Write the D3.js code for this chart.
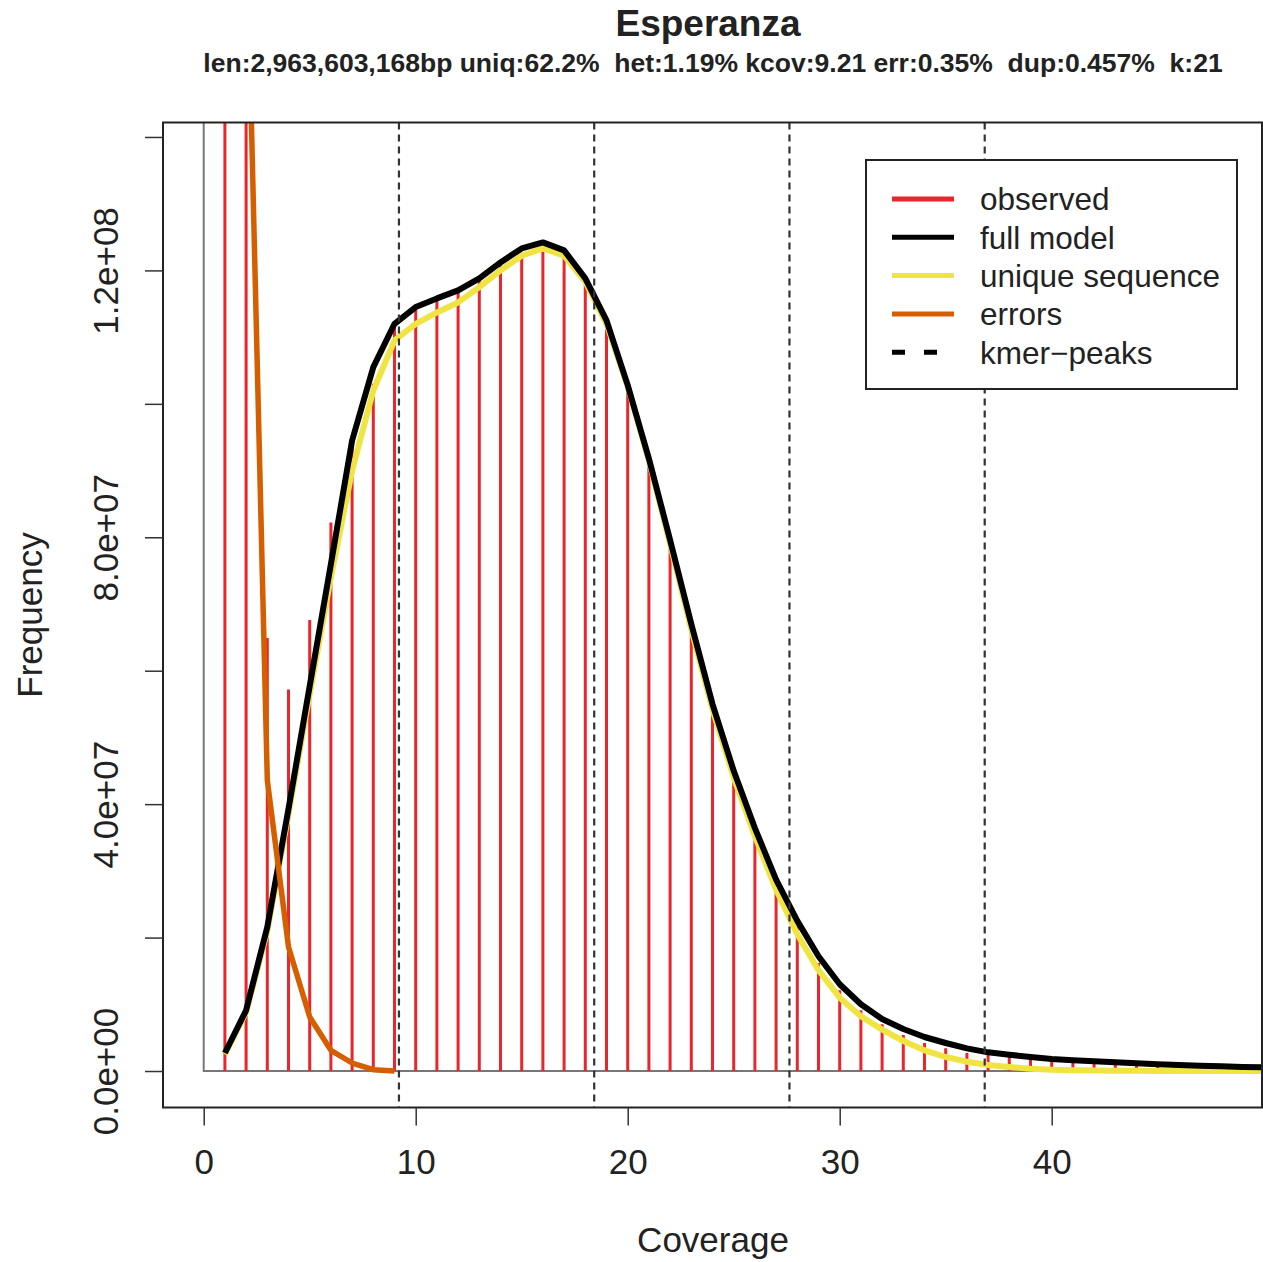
<!DOCTYPE html>
<html>
<head>
<meta charset="utf-8">
<script src="https://cdn.jsdelivr.net/npm/d3@7"></script>
<style>
  body { margin: 0; background: #fff; }
  text { font-family: "Liberation Sans", Arial, sans-serif; fill: #222; }
</style>
</head>
<body>
<svg id="chart" width="1263" height="1262"></svg>
<script>
var coverage = [1, 2, 3, 4, 5, 6, 7, 8, 9, 10, 11, 12, 13, 14, 15, 16, 17, 18, 19, 20,
    21, 22, 23, 24, 25, 26, 27, 28, 29, 30, 31, 32, 33, 34, 35, 36, 37, 38, 39, 40,
    41, 42, 43, 44, 45, 46, 47, 48, 49, 50];

// observed histogram (1..49)
var observed = [4.6e8, 1.62e8, 6.49e7, 5.72e7, 6.76e7, 8.22e7, 9.4e7, 1.03e8, 1.115e8, 1.143e8,
    1.158e8, 1.172e8, 1.19e8, 1.21e8, 1.225e8, 1.236e8, 1.222e8, 1.178e8, 1.112e8, 1.02e8,
    9.15e7, 7.9e7, 6.68e7, 5.5e7, 4.47e7, 3.6e7, 2.8e7, 2.18e7, 1.62e7, 1.21e7,
    9.1e6, 7.0e6, 5.4e6, 4.2e6, 3.4e6, 2.7e6, 2.4e6, 2.1e6, 1.8e6, 1.5e6,
    1.35e6, 1.2e6, 1.2e6, 1.1e6, 1.15e6, 1.1e6, 1.1e6, 1.05e6, 1.05e6];

var fullModel = [2.7e6, 9.1e6, 2.16e7, 3.93e7, 5.77e7, 7.6e7, 9.45e7, 1.055e8, 1.12e8, 1.145e8,
    1.158e8, 1.17e8, 1.188e8, 1.212e8, 1.233e8, 1.242e8, 1.23e8, 1.188e8, 1.125e8, 1.028e8,
    9.18e7, 7.96e7, 6.7e7, 5.5e7, 4.5e7, 3.64e7, 2.87e7, 2.25e7, 1.72e7, 1.3e7,
    1.0e7, 7.8e6, 6.3e6, 5.1e6, 4.2e6, 3.4e6, 2.8e6, 2.45e6, 2.1e6, 1.8e6,
    1.6e6, 1.45e6, 1.3e6, 1.15e6, 1.0e6, 9e5, 8e5, 7e5, 6e5, 5.5e5];

var uniqueSeq = [2.5e6, 8.8e6, 2.1e7, 3.85e7, 5.65e7, 7.4e7, 9.0e7, 1.02e8, 1.095e8, 1.12e8,
    1.137e8, 1.152e8, 1.175e8, 1.2e8, 1.222e8, 1.233e8, 1.222e8, 1.183e8, 1.12e8, 1.026e8,
    9.15e7, 7.9e7, 6.62e7, 5.42e7, 4.4e7, 3.52e7, 2.72e7, 2.05e7, 1.51e7, 1.1e7,
    8.2e6, 6.2e6, 4.5e6, 3.1e6, 2.1e6, 1.4e6, 9e5, 6e5, 3.5e5, 2e5,
    1.2e5, 8e4, 5e4, 3e4, 2e4, 1e4, 0, 0, 0, 0];

var errors = [4.0e8, 1.75e8, 4.36e7, 1.86e7, 8.1e6, 3.1e6, 1.2e6, 2e5, 0];

var peaks = [9.21, 18.42, 27.63, 36.84];

var xTicks = [0, 10, 20, 30, 40];
var yTicks = [0, 2e7, 4e7, 6e7, 8e7, 1e8, 1.2e8, 1.4e8];
var yLabels = [0, 4e7, 8e7, 1.2e8];

var legendItems = [
    {label: "observed", color: "#e8262b", dash: null},
    {label: "full model", color: "#000000", dash: null},
    {label: "unique sequence", color: "#f0e442", dash: null},
    {label: "errors", color: "#d55e00", dash: null},
    {label: "kmer\u2212peaks", color: "#000000", dash: "13,19"}
];

var title = "Esperanza";
var subtitle = "len:2,963,603,168bp uniq:62.2%  het:1.19% kcov:9.21 err:0.35%  dup:0.457%  k:21";

var box = {left: 163, right: 1262, top: 122.5, bottom: 1107.5};

// R style 4% padding around xlim/ylim
var xlim = [0, 48], ylim = [0, 1.367e8];
var xpad = (xlim[1] - xlim[0]) * 0.04, ypad = (ylim[1] - ylim[0]) * 0.04;
var x = d3.scaleLinear().domain([xlim[0] - xpad, xlim[1] + xpad]).range([box.left, box.right]);
var y = d3.scaleLinear().domain([ylim[0] - ypad, ylim[1] + ypad]).range([box.bottom, box.top]);

var svg = d3.select("#chart");
svg.append("rect").attr("width", 1263).attr("height", 1262).attr("fill", "#fff");

svg.append("defs").append("clipPath").attr("id", "plotclip")
    .append("rect")
    .attr("x", box.left).attr("y", box.top)
    .attr("width", box.right - box.left).attr("height", box.bottom - box.top);

var plot = svg.append("g").attr("clip-path", "url(#plotclip)");

// grey frame at x=0 / y=0
plot.append("path")
    .attr("d", "M" + x(0) + "," + box.top + "L" + x(0) + "," + y(0) + "L" + box.right + "," + y(0))
    .attr("fill", "none")
    .attr("stroke", "#777")
    .attr("stroke-width", 2);

// observed as type="h" bars
plot.append("g").selectAll("line")
    .data(observed)
    .enter().append("line")
    .attr("x1", function(d, i) { return x(coverage[i]); })
    .attr("x2", function(d, i) { return x(coverage[i]); })
    .attr("y1", y(0))
    .attr("y2", function(d) { return y(d); })
    .attr("stroke", "#e8262b")
    .attr("stroke-width", 3);

var line = d3.line()
    .x(function(d, i) { return x(coverage[i]); })
    .y(function(d) { return y(d); });

plot.append("path").datum(uniqueSeq)
    .attr("d", line)
    .attr("fill", "none").attr("stroke", "#f0e442").attr("stroke-width", 6)
    .attr("stroke-linejoin", "round");

plot.append("path").datum(fullModel)
    .attr("d", line)
    .attr("fill", "none").attr("stroke", "#000").attr("stroke-width", 6)
    .attr("stroke-linejoin", "round");

plot.append("path").datum(errors)
    .attr("d", line)
    .attr("fill", "none").attr("stroke", "#d55e00").attr("stroke-width", 5.5)
    .attr("stroke-linejoin", "round");

plot.append("g").selectAll("line")
    .data(peaks)
    .enter().append("line")
    .attr("x1", function(d) { return x(d); })
    .attr("x2", function(d) { return x(d); })
    .attr("y1", box.top)
    .attr("y2", box.bottom)
    .attr("stroke", "#333")
    .attr("stroke-width", 2.2)
    .attr("stroke-dasharray", "7,5");

// box
svg.append("rect")
    .attr("x", box.left).attr("y", box.top)
    .attr("width", box.right - box.left).attr("height", box.bottom - box.top)
    .attr("fill", "none").attr("stroke", "#222").attr("stroke-width", 2);

// axes
var xAxis = svg.append("g")
    .attr("transform", "translate(0," + box.bottom + ")")
    .call(d3.axisBottom(x).tickValues(xTicks).tickSize(18).tickPadding(24).tickSizeOuter(0));
xAxis.select(".domain").remove();
xAxis.selectAll(".tick line").attr("stroke", "#333").attr("stroke-width", 1.5);
xAxis.selectAll(".tick text")
    .attr("font-family", "Liberation Sans, Arial, sans-serif")
    .attr("font-size", 35).attr("fill", "#222");

var yAxis = svg.append("g")
    .attr("transform", "translate(" + box.left + ",0)")
    .call(d3.axisLeft(y).tickValues(yTicks).tickSize(18).tickSizeOuter(0)
        .tickFormat(function(d) {
            if (yLabels.indexOf(d) < 0) return "";
            return d3.format(".1e")(d).replace(/e([+-])(\d)$/, "e$10$2");
        }));
yAxis.select(".domain").remove();
yAxis.selectAll(".tick line").attr("stroke", "#333").attr("stroke-width", 1.5);
yAxis.selectAll(".tick text")
    .attr("font-family", "Liberation Sans, Arial, sans-serif")
    .attr("font-size", 35).attr("fill", "#222")
    .attr("text-anchor", "middle")
    .attr("x", 0).attr("dy", 0)
    .attr("transform", "translate(-45,0) rotate(-90)");

// labels
svg.append("text")
    .attr("x", 713).attr("y", 1252)
    .attr("text-anchor", "middle")
    .attr("font-size", 35)
    .text("Coverage");

svg.append("text")
    .attr("transform", "translate(42," + ((box.top + box.bottom) / 2) + ") rotate(-90)")
    .attr("text-anchor", "middle")
    .attr("font-size", 35)
    .text("Frequency");

svg.append("text")
    .attr("x", 708).attr("y", 36)
    .attr("text-anchor", "middle")
    .attr("font-size", 37).attr("font-weight", "bold")
    .text(title);

svg.append("text")
    .attr("x", 713).attr("y", 72)
    .attr("text-anchor", "middle")
    .attr("font-size", 26.5).attr("font-weight", "bold")
    .style("white-space", "pre")
    .text(subtitle);

// legend
var legend = svg.append("g");
legend.append("rect")
    .attr("x", 866).attr("y", 160).attr("width", 371).attr("height", 229)
    .attr("fill", "#fff").attr("stroke", "#222").attr("stroke-width", 2);

var rows = legend.selectAll("g.row")
    .data(legendItems)
    .enter().append("g")
    .attr("class", "row")
    .attr("transform", function(d, i) { return "translate(0," + (199 + i * 38.3) + ")"; });

rows.append("line")
    .attr("x1", 892).attr("x2", 954)
    .attr("stroke", function(d) { return d.color; })
    .attr("stroke-width", 5)
    .attr("stroke-dasharray", function(d) { return d.dash; });

rows.append("text")
    .attr("x", 980).attr("dy", "0.36em")
    .attr("font-size", 31.5)
    .text(function(d) { return d.label; });
</script>
</body>
</html>
